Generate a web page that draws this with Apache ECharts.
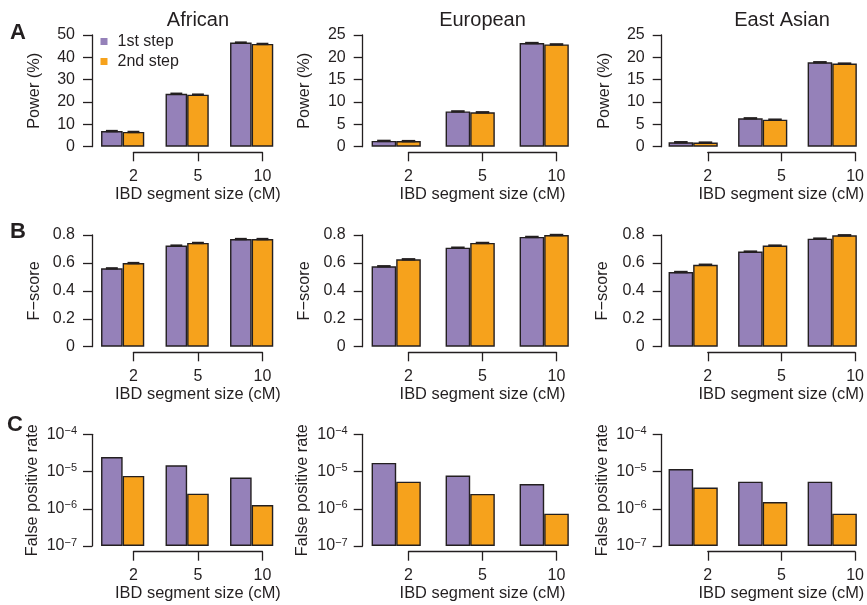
<!DOCTYPE html>
<html>
<head>
<meta charset="utf-8">
<script src="https://cdn.jsdelivr.net/npm/echarts@6/dist/echarts.min.js"></script>
<style>html,body{margin:0;padding:0;background:#fff}#c{width:867px;height:605px}</style>
</head>
<body>
<div id="c"></div>
<script>
// ---------------- data ----------------
const categories = ['2', '5', '10'];
const populations = ['African', 'European', 'East Asian'];
const stepNames = ['1st step', '2nd step'];
const panelLetters = ['A', 'B', 'C'];
const rowTitles = ['Power (%)', 'F\u2212score', 'False positive rate'];
const xTitle = 'IBD segment size (cM)';

const powerAfrican1st = [7.0, 23.7, 46.6];
const powerAfrican2nd = [6.6, 23.3, 46.0];
const powerEuropean1st = [1.3, 7.9, 23.2];
const powerEuropean2nd = [1.25, 7.7, 22.9];
const powerEastAsian1st = [1.0, 6.35, 18.9];
const powerEastAsian2nd = [0.92, 6.05, 18.6];
const powerErrAfrican = [0.3, 0.35, 0.4];
const powerErrEuropean = [0.12, 0.15, 0.25];
const powerErrEastAsian = [0.1, 0.12, 0.22];

const fscoreAfrican1st = [0.561, 0.724, 0.771];
const fscoreAfrican2nd = [0.599, 0.743, 0.771];
const fscoreEuropean1st = [0.576, 0.709, 0.786];
const fscoreEuropean2nd = [0.626, 0.743, 0.800];
const fscoreEastAsian1st = [0.535, 0.681, 0.774];
const fscoreEastAsian2nd = [0.587, 0.724, 0.798];
const fscoreErr = [0.004, 0.004, 0.004];

const fprAfrican1st = [2.46e-5, 1.47e-5, 6.9e-6];
const fprAfrican2nd = [7.6e-6, 2.55e-6, 1.26e-6];
const fprEuropean1st = [1.70e-5, 7.8e-6, 4.6e-6];
const fprEuropean2nd = [5.35e-6, 2.5e-6, 7.4e-7];
const fprEastAsian1st = [1.17e-5, 5.35e-6, 5.35e-6];
const fprEastAsian2nd = [3.7e-6, 1.52e-6, 7.4e-7];

const powerMax = [50, 25, 25];
const powerStep = [10, 5, 5];
const fscoreMax = 0.8;
const fscoreStep = 0.2;
const fprMin = 1e-7;
const fprMax = 1e-4;

// ---------------- layout / style ----------------
const PURPLE = '#9581b9', ORANGE = '#f6a21c', INK = '#231f20';
const FONT = 'Liberation Sans, Arial, Helvetica, sans-serif';
const cols = [
  { bandStart: 90.4, spacing: 64.5, barW: 21.6, axisX: 92, nameGap: [49, 49, 51] },
  { bandStart: 359.2, spacing: 74, barW: 24.6, axisX: 362.7, nameGap: [50, 50, 52] },
  { bandStart: 658.4, spacing: 74.2, barW: 24.6, axisX: 661.7, nameGap: [49, 51, 51] }
];
const rows = [
  { top: 35, bottom: 146.7, bracket: 152.3 },
  { top: 235, bottom: 346.7, bracket: 352.3 },
  { top: 434.3, bottom: 546, bracket: 551.7 }
];

const panelData = [
  [[powerAfrican1st, powerAfrican2nd, powerErrAfrican], [powerEuropean1st, powerEuropean2nd, powerErrEuropean], [powerEastAsian1st, powerEastAsian2nd, powerErrEastAsian]],
  [[fscoreAfrican1st, fscoreAfrican2nd, fscoreErr], [fscoreEuropean1st, fscoreEuropean2nd, fscoreErr], [fscoreEastAsian1st, fscoreEastAsian2nd, fscoreErr]],
  [[fprAfrican1st, fprAfrican2nd, null], [fprEuropean1st, fprEuropean2nd, null], [fprEastAsian1st, fprEastAsian2nd, null]]
];

const grid = [], xAxis = [], yAxis = [], series = [], title = [];
const axisLineStyle = { color: INK, width: 1.3 };
const labelStyle = { color: INK, fontSize: 16, fontFamily: FONT };

// bar grids
for (let r = 0; r < 3; r++) {
  for (let c = 0; c < 3; c++) {
    const p = r * 3 + c, col = cols[c], row = rows[r];
    grid.push({ left: col.bandStart, width: 3 * col.spacing, top: row.top, height: row.bottom - row.top });
    xAxis.push({ type: 'category', gridIndex: p, data: categories, show: false, boundaryGap: true });
    const y = {
      gridIndex: p, offset: col.bandStart - col.axisX,
      name: rowTitles[r], nameLocation: 'middle', nameRotate: 90, nameGap: col.nameGap[r],
      nameTextStyle: { color: INK, fontSize: 16.3, fontFamily: FONT },
      axisLine: { show: true, lineStyle: axisLineStyle },
      axisTick: { show: true, length: 9, lineStyle: axisLineStyle },
      splitLine: { show: false },
      axisLabel: Object.assign({ margin: 17 }, labelStyle)
    };
    if (r === 0) Object.assign(y, { type: 'value', min: 0, max: powerMax[c], interval: powerStep[c] });
    else if (r === 1) Object.assign(y, { type: 'value', min: 0, max: fscoreMax, interval: fscoreStep });
    else Object.assign(y, {
      type: 'log', logBase: 10, min: fprMin, max: fprMax, startValue: fprMin,
      axisLabel: {
        margin: 15,
        formatter: v => '{b|10}{s|\u2212' + Math.abs(Math.round(Math.log10(v))) + '}',
        rich: {
          b: { fontSize: 16, color: INK, fontFamily: FONT, lineHeight: 18 },
          s: { fontSize: 11, color: INK, fontFamily: FONT, verticalAlign: 'top', lineHeight: 11 }
        }
      }
    });
    yAxis.push(y);

    const [d1, d2, err] = panelData[r][c];
    [d1, d2].forEach((d, k) => {
      series.push({
        type: 'bar', name: stepNames[k], xAxisIndex: p, yAxisIndex: p, data: d,
        barWidth: col.barW, barGap: '0%', silent: true,
        itemStyle: { color: k === 0 ? PURPLE : ORANGE, borderColor: INK, borderWidth: 1.4 }
      });
      if (err) {
        const off = (k === 0 ? -0.5 : 0.5) * col.barW, w = col.barW * 0.55;
        series.push({
          type: 'custom', xAxisIndex: p, yAxisIndex: p, silent: true, z: 5,
          data: d.map((v, i) => [i, v, err[i]]),
          renderItem: (params, api) => {
            const i = api.value(0), v = api.value(1), e = api.value(2);
            const hi = api.coord([i, v + e]), lo = api.coord([i, v - e]);
            const h = Math.max(2.4, lo[1] - hi[1]);
            const cy = (hi[1] + lo[1]) / 2;
            return { type: 'rect', shape: { x: hi[0] + off - w / 2, y: cy - h / 2, width: w, height: h }, style: { fill: INK } };
          }
        });
      }
    });
  }
}
// bracket grids (the R style x axis spanning first to last tick)
for (let r = 0; r < 3; r++) {
  for (let c = 0; c < 3; c++) {
    const g = grid.length, col = cols[c], row = rows[r];
    const tick0 = col.bandStart + 0.5 * col.spacing + col.barW / 2;
    grid.push({ left: tick0, width: 2 * col.spacing, top: row.bracket - 1, height: 1 });
    xAxis.push({
      type: 'value', gridIndex: g, min: 0, max: categories.length - 1, interval: 1, position: 'bottom',
      name: xTitle, nameLocation: 'middle', nameGap: 34,
      nameTextStyle: { color: INK, fontSize: 16.4, fontFamily: FONT },
      axisLine: { show: true, lineStyle: axisLineStyle },
      axisTick: { show: true, length: 9, lineStyle: axisLineStyle },
      splitLine: { show: false },
      axisLabel: Object.assign({ margin: 16, formatter: v => categories[v] }, labelStyle)
    });
    yAxis.push({ type: 'value', gridIndex: g, min: 0, max: 1, show: false });
  }
}
// titles
const popCenters = cols.map(col => col.bandStart + 1.5 * col.spacing + col.barW / 2);
populations.forEach((t, c) => title.push({
  text: t, left: popCenters[c], top: 9, textAlign: 'center', padding: 0,
  textStyle: { color: INK, fontSize: 20, fontWeight: 'normal', fontFamily: FONT, lineHeight: 22 }
}));
const letterTops = [21, 220, 413];
panelLetters.forEach((t, r) => title.push({
  text: t, left: r === 2 ? 15 : 18, top: letterTops[r], textAlign: 'center', padding: 0,
  textStyle: { color: INK, fontSize: 22, fontWeight: 'bold', fontFamily: FONT, lineHeight: 24 }
}));

const chart = echarts.init(document.getElementById('c'), null, { renderer: 'canvas' });
chart.setOption({
  animation: false,
  backgroundColor: '#fff',
  title, grid, xAxis, yAxis, series,
  legend: {
    data: stepNames, orient: 'vertical', left: 100.5, top: 32, padding: 0,
    itemWidth: 7, itemHeight: 7, itemGap: 1, icon: 'rect',
    itemStyle: { borderWidth: 0 },
    textStyle: { color: INK, fontSize: 16, fontFamily: FONT, lineHeight: 19, padding: [0, 0, 0, 5] }
  }
});
</script>
</body>
</html>
